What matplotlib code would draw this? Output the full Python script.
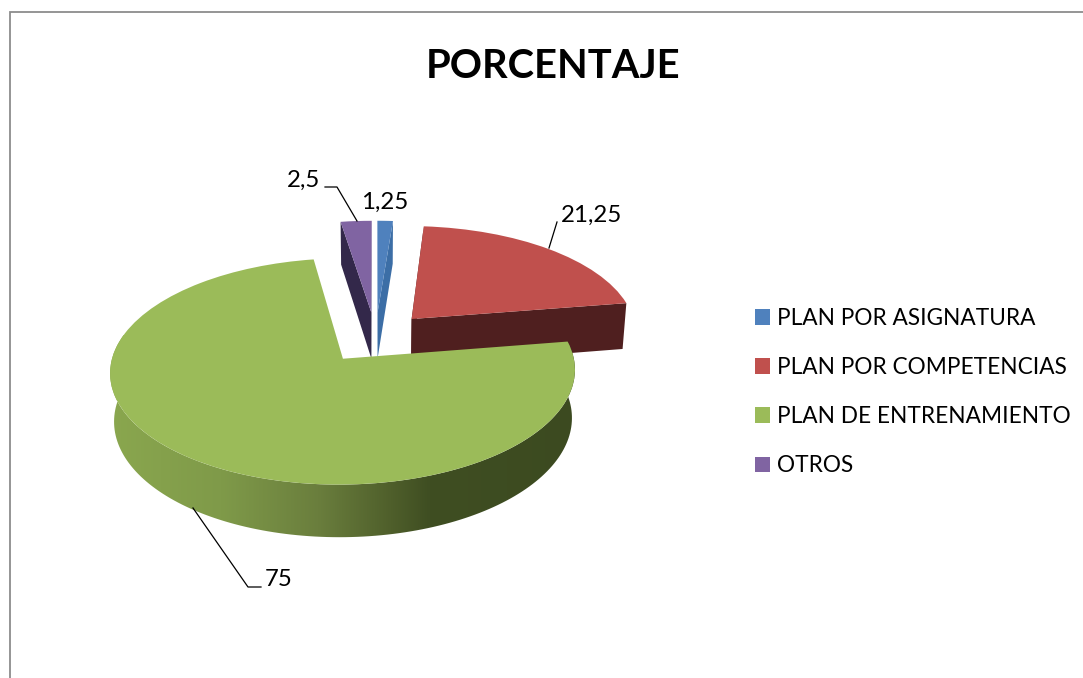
import numpy as np
import matplotlib
matplotlib.use("Agg")
import matplotlib.pyplot as plt
import matplotlib.transforms as mtransforms
from matplotlib.colors import LinearSegmentedColormap
from matplotlib.patches import Polygon

# data
categories = ["PLAN POR ASIGNATURA", "PLAN POR COMPETENCIAS", "PLAN DE ENTRENAMIENTO", "OTROS"]
values = [1.25, 21.25, 75, 2.5]
value_labels = ["1,25", "21,25", "75", "2,5"]
top_colors = ["#4f81bd", "#c0504d", "#9bbb59", "#8064a2"]
side_colors = ["#3c6ea6", "#4f1f1f", "#3f4e22", "#33284a"]

plt.rcParams["font.family"] = ["Lato", "DejaVu Sans"]

EXPLODE = 0.24
W, H = 1083, 678


class Persp(mtransforms.Transform):
    """pie disc coordinates -> pixel position, with a little perspective"""
    input_dims = 2
    output_dims = 2

    def __init__(self, cx, cy, a, b, k):
        super().__init__()
        self.cx, self.cy, self.a, self.b, self.k = cx, cy, a, b, k

    def transform_non_affine(self, xy):
        xy = np.asarray(xy, dtype=float)
        w = 1 + self.k * xy[:, 1]
        return np.column_stack((self.cx + self.a * xy[:, 0] / w, self.cy - self.b * xy[:, 1] / w))


top_face = Persp(375.5, 337.5, 226, 107, 0.11)
bottom_face = Persp(375.5, 384.6, 222.6, 111, 0.11)

fig = plt.figure(figsize=(W / 100, H / 100), dpi=100)
ax = fig.add_axes([0, 0, 1, 1])

# top faces
wedges, _ = ax.pie(values, explode=[EXPLODE] * len(values), startangle=90, counterclock=False,
                   colors=top_colors, radius=1,
                   wedgeprops={"transform": top_face + ax.transData, "linewidth": 0})

ax.set_aspect("auto")
ax.set_axis_off()


def rim(i):
    # rim of slice i in disc coordinates, apex last
    start = sum(values[:i]) / sum(values) * 2 * np.pi
    end = sum(values[:i + 1]) / sum(values) * 2 * np.pi
    mid = (start + end) / 2
    t = np.linspace(start, end, 200)
    ox, oy = EXPLODE * np.sin(mid), EXPLODE * np.cos(mid)
    return np.column_stack((ox + np.sin(t), oy + np.cos(t))), np.array([[ox, oy]])


def side_poly(i, which):
    pts, apex = rim(i)
    if which == "outer":
        up = top_face.transform_non_affine(pts)
        low = bottom_face.transform_non_affine(pts)
    elif which == "start":
        edge = np.vstack((pts[0], apex))
        up = top_face.transform_non_affine(edge)
        low = bottom_face.transform_non_affine(edge)
    else:
        edge = np.vstack((pts[-1], apex))
        up = top_face.transform_non_affine(edge)
        low = bottom_face.transform_non_affine(edge)
    return np.vstack((up, low[::-1]))


# walls of the small slices and the red one, behind the green slice
for i in [0, 1, 3]:
    for which in ["start", "end"]:
        ax.add_patch(Polygon(side_poly(i, which), closed=True, facecolor=side_colors[i],
                             edgecolor="none", zorder=1))
    wedges[i].set_zorder(2)

# green wall with the shading going left to right
green_wall = Polygon(side_poly(2, "outer"), closed=True, facecolor="none", edgecolor="none", zorder=3)
ax.add_patch(green_wall)
shade = LinearSegmentedColormap.from_list("shade", [(0, "#8ba84f"), (0.25, "#7f9a49"), (0.45, "#6a7e3d"),
                                                    (0.6, "#4f5f2b"), (0.68, "#3f4e22"), (1, "#3c4a20")])
im = ax.imshow(np.linspace(0, 1, 256).reshape(1, -1), cmap=shade, extent=(100, 585, 545, 335),
               aspect="auto", zorder=3)
im.set_clip_path(green_wall)
wedges[2].set_zorder(4)

ax.set_xlim(0, W)
ax.set_ylim(H, 0)

# chart frame, cut by the image edges
ax.plot([10, 10, W], [H, 12, 12], color="#8c8c8c", lw=1.3, solid_joinstyle="miter", clip_on=False, zorder=5)

ax.text(553.5, 66, "PORCENTAJE", ha="center", va="center", fontsize=28.7, fontweight="bold", color="black")

# leader lines
ax.plot([325, 337, 357], [187, 187, 221], color="black", lw=0.9, zorder=6)
ax.plot([557, 549], [222, 248], color="black", lw=0.9, zorder=6)
ax.plot([193, 248, 261], [508, 587, 587], color="black", lw=0.9, zorder=6)

label_pos = [(385, 202), (591, 215.5), (279, 580), (303, 180)]
for txt, (x, y) in zip(value_labels, label_pos):
    ax.text(x, y, txt, ha="center", va="center", fontsize=17.3, color="black")

ax.legend(wedges, categories, loc="center left", bbox_to_anchor=(755 / W, 1 - 392 / H),
          bbox_transform=fig.transFigure, frameon=False, fontsize=16.3, handlelength=0.66, handleheight=0.66,
          handletextpad=0.32, labelspacing=1.24, borderpad=0, borderaxespad=0)

fig.savefig("out.png", dpi=100, facecolor="white")
